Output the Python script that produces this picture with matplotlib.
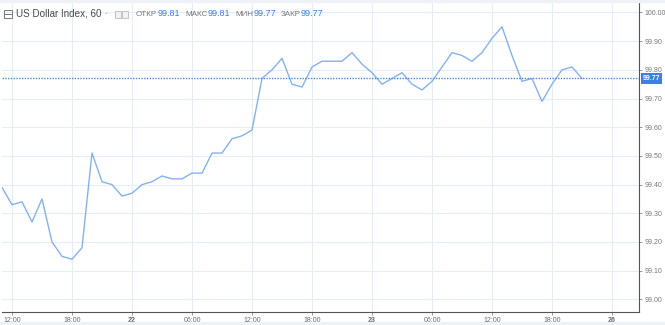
import matplotlib
matplotlib.use('Agg')
import matplotlib.pyplot as plt
from matplotlib.patches import Rectangle
from matplotlib.transforms import blended_transform_factory

plt.rcParams['font.family'] = ['Liberation Sans', 'DejaVu Sans']

# hourly closes, US Dollar Index (60 min)
closes = [99.39, 99.33, 99.34, 99.27, 99.35, 99.20, 99.15, 99.14, 99.18, 99.51,
          99.41, 99.40, 99.36, 99.37, 99.40, 99.41, 99.43, 99.42, 99.42, 99.44,
          99.44, 99.51, 99.51, 99.56, 99.57, 99.59, 99.77, 99.80, 99.84, 99.75,
          99.74, 99.81, 99.83, 99.83, 99.83, 99.86, 99.82, 99.79, 99.75, 99.77,
          99.79, 99.75, 99.73, 99.76, 99.81, 99.86, 99.85, 99.83, 99.86, 99.91,
          99.95, 99.85, 99.76, 99.77, 99.69, 99.75, 99.80, 99.81, 99.77]
last_close = 99.77

tick_pos = [1, 7, 13, 19, 25, 31, 37, 43, 49, 55, 61]
tick_labels = ['12:00', '18:00', '22', '06:00', '12:00', '18:00', '23',
               '06:00', '12:00', '18:00', '26']
y_ticks = [99.0, 99.1, 99.2, 99.3, 99.4, 99.5, 99.6, 99.7, 99.8, 99.9, 100.0]

header_labels = ['ОТКР', 'МАКС', 'МИН', 'ЗАКР']
header_values = ['99.81', '99.81', '99.77', '99.77']

W, H = 665, 325


def px(x, y):
    return x / W, 1 - y / H


fig = plt.figure(figsize=(6.65, 3.25), dpi=100)
fig.patch.set_facecolor('white')
# thin grey bands top and bottom
fig.patches.append(Rectangle((0, 0), 1, 3 / H, transform=fig.transFigure,
                             color='#eef1f5', zorder=0))
fig.patches.append(Rectangle((0, 1 - 2 / H), 1, 2 / H, transform=fig.transFigure,
                             color='#eef1f5', zorder=0))

ax = fig.add_axes([2 / W, 1 - 312 / H, 637 / W, 309 / H])
ax.plot(range(len(closes)), closes, color='#86b1f0', lw=1.0)
ax.axhline(last_close, color='#4a88e6', lw=1.0, ls=(0, (1, 1)))

ax.set_xlim(0, 63.7)
ax.set_ylim(98.956, 100.033)
ax.set_xticks(tick_pos)
ax.set_xticklabels(tick_labels)
for lbl in ax.get_xticklabels():
    if ':' not in lbl.get_text():
        lbl.set_fontweight('bold')
ax.set_yticks(y_ticks)
ax.set_yticklabels([f'{v:.2f}' for v in y_ticks])
ax.yaxis.tick_right()

ax.grid(True, color='#e6edf6', lw=0.8)
ax.set_axisbelow(True)
for side in ('top', 'left'):
    ax.spines[side].set_visible(False)
for side in ('right', 'bottom'):
    ax.spines[side].set_color('#555555')
    ax.spines[side].set_linewidth(0.8)
ax.tick_params(axis='x', labelsize=5, labelcolor='#666666', color='#888888',
               length=2, width=0.6, pad=1.5)
ax.tick_params(axis='y', labelsize=5, labelcolor='#777777', color='#888888',
               length=2.5, width=0.6, pad=1.5)

# last price marker on the right axis
trans = blended_transform_factory(ax.transAxes, ax.transData)
ax.text(1.006, last_close, f'{last_close:.2f}', transform=trans, fontsize=5,
        color='white', fontweight='bold', va='center', ha='left',
        bbox=dict(boxstyle='square,pad=0.3', fc='#3f7fe3', ec='none'))

# header
fig.patches.append(Rectangle(px(4, 18), 8 / W, 8 / H, transform=fig.transFigure,
                             fill=False, ec='#777777', lw=0.7))
fig.lines.append(plt.Line2D([px(5.5, 0)[0], px(10.5, 0)[0]], [px(0, 14)[1]] * 2,
                            transform=fig.transFigure, color='#777777', lw=0.7))
fig.text(*px(16, 14), 'US Dollar Index, 60', fontsize=7.1, color='#4a4a4a',
         va='center', ha='left')
fig.text(*px(105, 14), '-', fontsize=6, color='#999999', va='center')
for bx in (115, 122):
    fig.patches.append(Rectangle(px(bx, 18), 6 / W, 7 / H, transform=fig.transFigure,
                                 fill=True, fc='#f2f2f2', ec='#bbbbbb', lw=0.6))
label_x = [136, 185, 235, 281]
value_x = [158, 208, 254, 301]
for lx, vx, lab, val in zip(label_x, value_x, header_labels, header_values):
    fig.text(*px(lx, 14), lab, fontsize=5.8, color='#777777', va='center', ha='left')
    fig.text(*px(vx, 14), val, fontsize=6.6, color='#3a80e0', va='center', ha='left')

fig.savefig('out.png', dpi=100)
